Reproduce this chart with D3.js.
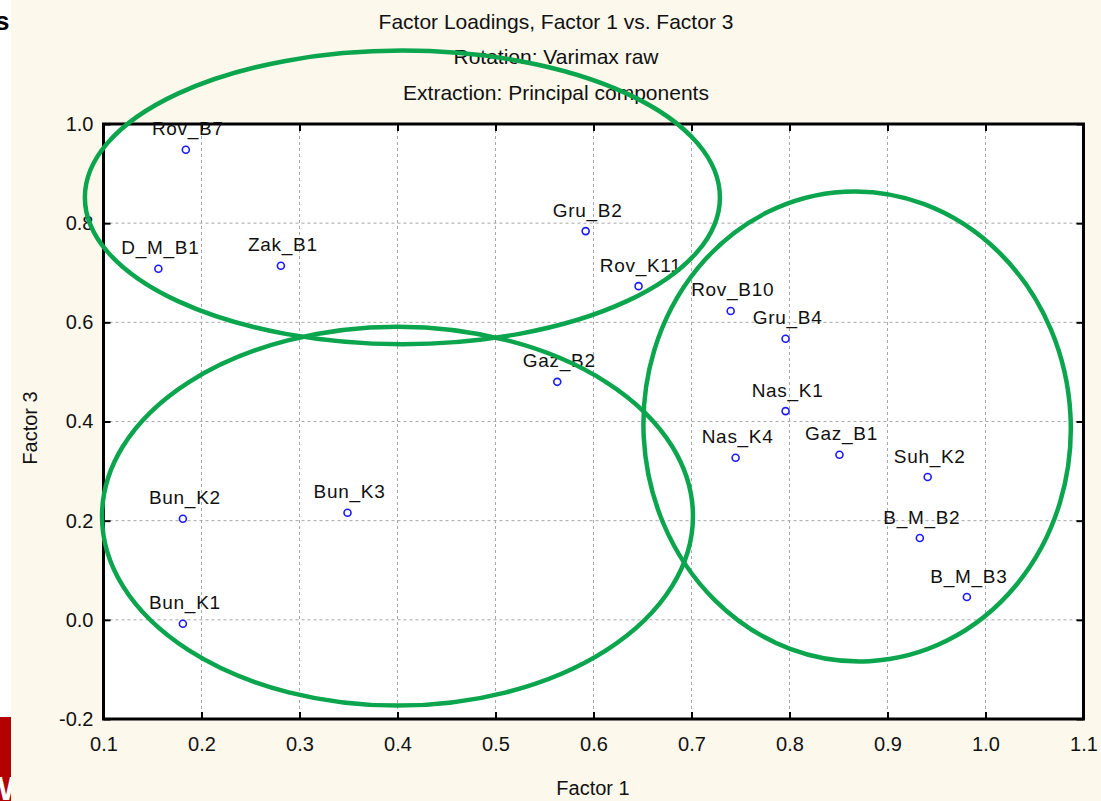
<!DOCTYPE html>
<meta charset="utf-8">
<title>Factor Loadings, Factor 1 vs. Factor 3</title>
<style>
  body { margin: 0; background: #fdf8ec; }
  svg { display: block; font-family: "Liberation Sans", Arial, sans-serif; }
</style>
<body>
<script src="https://cdn.jsdelivr.net/npm/d3@7"></script>
<script>

var width = 1101,
    height = 801;

// variable names and their loadings (Factor 1, Factor 3)
var names = ["Rov_B7", "D_M_B1", "Zak_B1", "Gru_B2", "Rov_K11", "Rov_B10", "Gru_B4",
             "Gaz_B2", "Nas_K1", "Nas_K4", "Gaz_B1", "Suh_K2", "B_M_B2", "B_M_B3",
             "Bun_K2", "Bun_K3", "Bun_K1"];
var factor1 = [0.184, 0.156, 0.281, 0.592, 0.646, 0.740, 0.796,
               0.563, 0.796, 0.745, 0.851, 0.941, 0.933, 0.981,
               0.181, 0.349, 0.181];
var factor3 = [0.948, 0.708, 0.714, 0.784, 0.673, 0.623, 0.567,
               0.480, 0.421, 0.327, 0.333, 0.288, 0.165, 0.046,
               0.204, 0.216, -0.008];

var xTicks = [0.1, 0.2, 0.3, 0.4, 0.5, 0.6, 0.7, 0.8, 0.9, 1.0, 1.1];
var yTicks = [-0.2, 0.0, 0.2, 0.4, 0.6, 0.8, 1.0];

var titleLines = ["Factor Loadings, Factor 1 vs. Factor 3",
                  "Rotation: Varimax raw",
                  "Extraction: Principal components"];

// hand drawn groups, in data units: centre x, centre y, radius x, radius y, tilt
var groupCx = [0.405, 0.400, 0.869];
var groupCy = [0.852, 0.209, 0.390];
var groupRx = [0.324, 0.3015, 0.218];
var groupRy = [0.296, 0.382, 0.474];
var groupTilt = [0, 0, -3];

var x = d3.scaleLinear().domain([0.1, 1.1]).range([103.5, 1083.5]);
var y = d3.scaleLinear().domain([-0.2, 1.0]).range([719, 124]);

var points = names.map(function(n, i) { return {name: n, f1: factor1[i], f3: factor3[i]}; });

var svg = d3.select("body").append("svg")
    .attr("width", width)
    .attr("height", height);

svg.append("rect").attr("width", width).attr("height", height).attr("fill", "#fdf8ec");

// leftover slide pieces at the left edge
svg.append("rect").attr("x", 0).attr("y", 0).attr("width", 11).attr("height", 717).attr("fill", "#fff");
svg.append("rect").attr("x", 0).attr("y", 717).attr("width", 11).attr("height", 84).attr("fill", "#b30000");
var clip = svg.append("clipPath").attr("id", "strip");
clip.append("rect").attr("x", 0).attr("y", 0).attr("width", 11).attr("height", height);
svg.append("text").attr("clip-path", "url(#strip)")
    .attr("x", -5).attr("y", 30)
    .attr("font-size", 26).attr("font-weight", "bold").attr("fill", "#000")
    .text("s");
svg.append("text").attr("clip-path", "url(#strip)")
    .attr("x", -17).attr("y", 800)
    .attr("font-size", 34).attr("font-weight", "bold").attr("fill", "#fff")
    .text("W");

// plot area
svg.append("rect")
    .attr("x", x(0.1)).attr("y", y(1.0))
    .attr("width", x(1.1) - x(0.1)).attr("height", y(-0.2) - y(1.0))
    .attr("fill", "#fff");

// grid
svg.append("g").selectAll("line")
    .data(xTicks.slice(1, -1))
    .enter().append("line")
    .attr("x1", function(d) { return x(d); }).attr("x2", function(d) { return x(d); })
    .attr("y1", y(1.0)).attr("y2", y(-0.2))
    .attr("stroke", "#a8a8a8").attr("stroke-dasharray", "3,3");

svg.append("g").selectAll("line")
    .data(yTicks.slice(1, -1))
    .enter().append("line")
    .attr("y1", function(d) { return y(d); }).attr("y2", function(d) { return y(d); })
    .attr("x1", x(0.1)).attr("x2", x(1.1))
    .attr("stroke", "#a8a8a8").attr("stroke-dasharray", "3,3");

// axes, ticks pointing inward
var fmt = function(d) { return d3.format(".1f")(d).replace("\u2212", "-"); };

var gx = svg.append("g").attr("transform", "translate(0," + y(-0.2) + ")")
    .call(d3.axisBottom(x).tickValues(xTicks).tickFormat(fmt).tickSize(-7).tickPadding(18));
var gy = svg.append("g").attr("transform", "translate(" + x(0.1) + ",0)")
    .call(d3.axisLeft(y).tickValues(yTicks).tickFormat(fmt).tickSize(-7).tickPadding(10));
var gt = svg.append("g").attr("transform", "translate(0," + y(1.0) + ")")
    .call(d3.axisTop(x).tickValues(xTicks).tickFormat("").tickSize(-7));
var gr = svg.append("g").attr("transform", "translate(" + x(1.1) + ",0)")
    .call(d3.axisRight(y).tickValues(yTicks).tickFormat("").tickSize(-7));

[gx, gy, gt, gr].forEach(function(g) {
  g.select(".domain").remove();
  g.selectAll(".tick line").attr("stroke", "#000").attr("stroke-width", 2);
  g.selectAll(".tick text")
    .attr("font-size", 20)
    .attr("font-family", "Liberation Sans, Arial, sans-serif")
    .attr("fill", "#111");
});
gx.selectAll(".tick text").attr("dy", "0.71em");

// frame
svg.append("rect")
    .attr("x", x(0.1)).attr("y", y(1.0))
    .attr("width", x(1.1) - x(0.1)).attr("height", y(-0.2) - y(1.0))
    .attr("fill", "none").attr("stroke", "#000").attr("stroke-width", 3);

// points and labels
svg.append("g").selectAll("circle")
    .data(points)
    .enter().append("circle")
    .attr("cx", function(d) { return x(d.f1); })
    .attr("cy", function(d) { return y(d.f3); })
    .attr("r", 3.5)
    .attr("fill", "#fff")
    .attr("stroke", "#1a1aff")
    .attr("stroke-width", 1.6);

svg.append("g").selectAll("text")
    .data(points)
    .enter().append("text")
    .attr("x", function(d) { return x(d.f1) + 2; })
    .attr("y", function(d) { return y(d.f3) - 14.5; })
    .attr("text-anchor", "middle")
    .attr("font-size", 19)
    .attr("letter-spacing", 0.7)
    .attr("fill", "#111")
    .text(function(d) { return d.name; });

// titles
svg.append("g").selectAll("text")
    .data(titleLines)
    .enter().append("text")
    .attr("x", 556)
    .attr("y", function(d, i) { return 29 + i * 35.3; })
    .attr("text-anchor", "middle")
    .attr("font-size", 21)
    .attr("fill", "#111")
    .text(function(d) { return d; });

svg.append("text")
    .attr("x", 593).attr("y", 795)
    .attr("text-anchor", "middle")
    .attr("font-size", 20).attr("fill", "#111")
    .text("Factor 1");

svg.append("text")
    .attr("transform", "translate(37,428) rotate(-90)")
    .attr("text-anchor", "middle")
    .attr("font-size", 20).attr("fill", "#111")
    .text("Factor 3");

// green groupings drawn over everything
svg.append("g").selectAll("ellipse")
    .data(groupCx)
    .enter().append("ellipse")
    .attr("transform", function(d, i) {
      return "translate(" + x(d) + "," + y(groupCy[i]) + ") rotate(" + groupTilt[i] + ")";
    })
    .attr("rx", function(d, i) { return x(0.1 + groupRx[i]) - x(0.1); })
    .attr("ry", function(d, i) { return y(0) - y(groupRy[i]); })
    .attr("fill", "none")
    .attr("stroke", "#0ba54d")
    .attr("stroke-width", 4.5);

</script>
